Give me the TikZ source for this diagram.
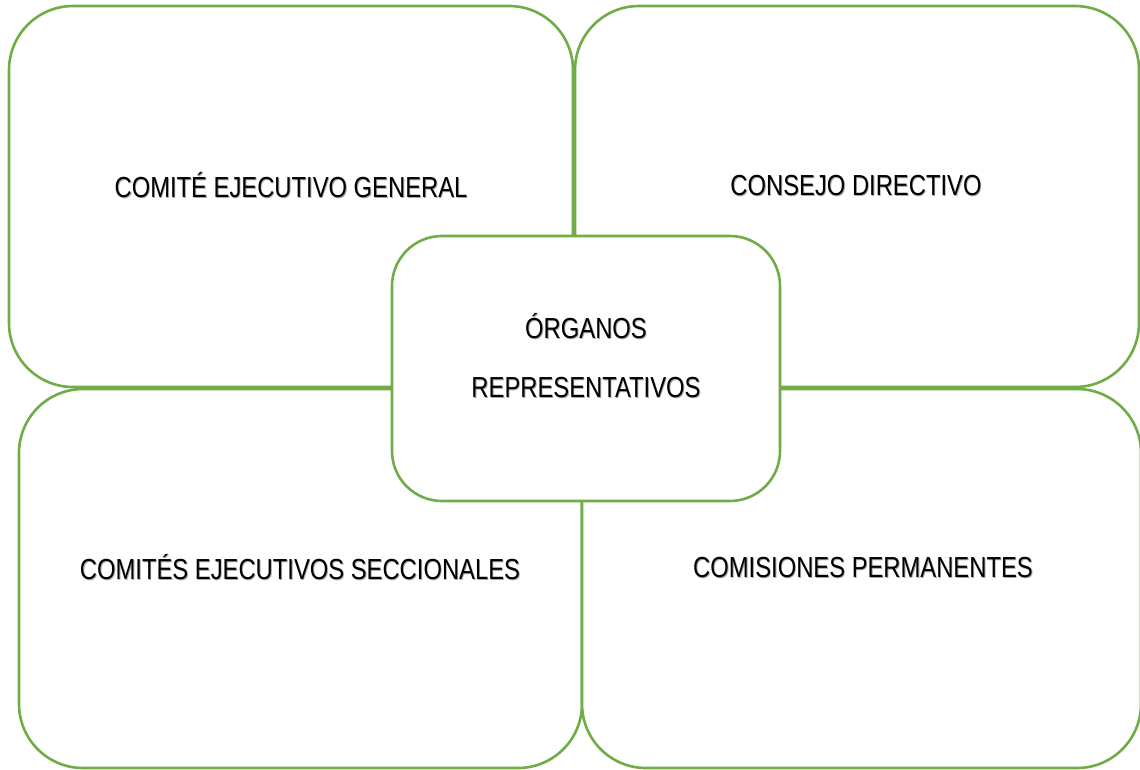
\documentclass[tikz,border=0pt]{standalone}
\usepackage{fontspec}
\newfontfamily\narrowfont[FakeStretch=0.82]{Liberation Sans}
\definecolor{boxgreen}{HTML}{70AD47}
\newcommand{\shtxt}[1]{\makebox[0pt][l]{\hspace{0.9pt}\raisebox{-0.9pt}{\textcolor{black!35}{#1}}}#1}
\begin{document}
\begin{tikzpicture}[x=1pt,y=-1pt,
  outerbox/.style={draw=boxgreen, line width=2.6pt, fill=white, rectangle, rounded corners=64pt,
    inner sep=0pt, outer sep=0pt, anchor=north west},
  centerbox/.style={draw=boxgreen, line width=2.6pt, fill=white, rectangle, rounded corners=50pt,
    inner sep=0pt, outer sep=0pt, anchor=north west},
  label/.style={font=\narrowfont\fontsize{29}{34}\selectfont, inner sep=0pt, anchor=center}]
\useasboundingbox (0,0) rectangle (1140,769);
\node[outerbox, minimum width=564pt, minimum height=381pt] (tl) at (9,6) {};
\node[outerbox, minimum width=564pt, minimum height=381pt] (tr) at (575,6) {};
\node[outerbox, minimum width=563pt, minimum height=379pt] (bl) at (19,389) {};
\node[outerbox, minimum width=559pt, minimum height=379pt] (br) at (582,389) {};
\node[centerbox, minimum width=388pt, minimum height=265pt] (c) at (392,236) {};
\node[label] (tltext) at (291,186) {\shtxt{COMITÉ EJECUTIVO GENERAL}};
\node[label] (trtext) at (856,186) {\shtxt{CONSEJO DIRECTIVO}};
\node[label] (c1) at (586,327) {\shtxt{ÓRGANOS}};
\node[label] (c2) at (586,388) {\shtxt{REPRESENTATIVOS}};
\node[label] (bltext) at (300,568) {\shtxt{COMITÉS EJECUTIVOS SECCIONALES}};
\node[label] (brtext) at (863,568) {\shtxt{COMISIONES PERMANENTES}};
\end{tikzpicture}
\end{document}
